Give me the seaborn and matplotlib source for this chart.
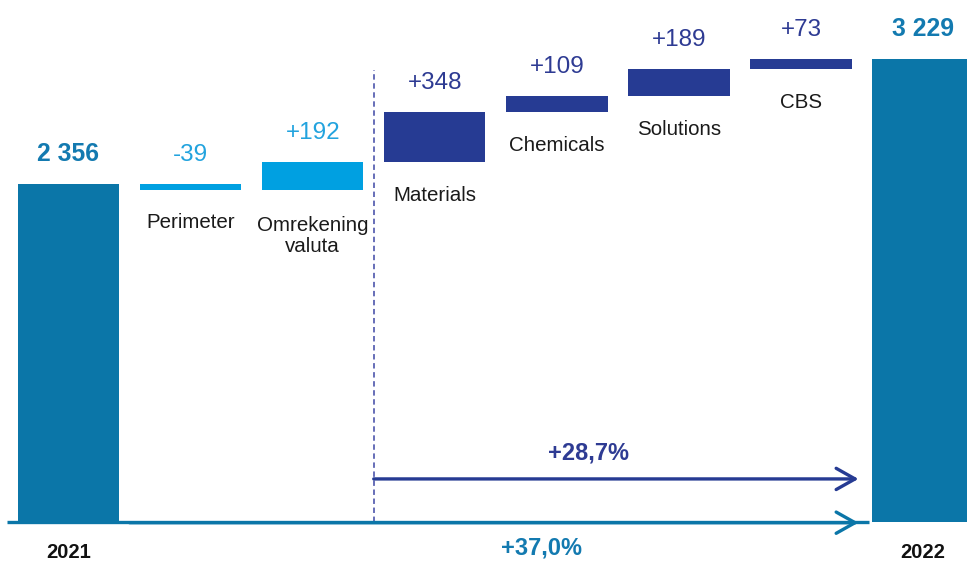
"""Waterfall: revenue bridge 2021 -> 2022"""

import matplotlib
matplotlib.use("Agg")
import matplotlib.pyplot as plt
import seaborn as sns
import pandas as pd

# data
categories = ["2021", "Perimeter", "Omrekening\nvaluta", "Materials",
              "Chemicals", "Solutions", "CBS", "2022"]
start_value = 2356
deltas = [-39, 192, 348, 109, 189, 73]
end_value = 3229
value_labels = ["2 356", "-39", "+192", "+348", "+109", "+189", "+73", "3 229"]
bar_colors = ["#0b76a8", "#00a0e1", "#00a0e1", "#263b93",
              "#263b93", "#263b93", "#263b93", "#0b76a8"]
text_colors = ["#137ab0", "#22a3de", "#22a3de", "#2e3b93",
               "#2e3b93", "#2e3b93", "#2e3b93", "#137ab0"]
pct_labels = ["+28,7%", "+37,0%"]


def waterfall_frame():
    """heights and bottoms of the floating bars"""
    heights = [start_value]
    bottoms = [0]
    level = start_value
    for d in deltas:
        new = level + d
        bottoms.append(min(level, new))
        heights.append(abs(d))
        level = new
    heights.append(end_value)
    bottoms.append(0)
    df = pd.DataFrame({"cat": categories, "height": heights, "bottom": bottoms})
    df["top"] = df["height"] + df["bottom"]
    return df


df = waterfall_frame()

sns.set_style("white")
plt.rcParams["font.family"] = ["Liberation Sans", "DejaVu Sans"]

fig = plt.figure(figsize=(9.67, 5.62), dpi=100)
ax = fig.add_axes([0, 0, 1, 1])

sns.barplot(data=df, x="cat", y="height", order=categories, bottom=df["bottom"].values,
            color=bar_colors[0], saturation=1, width=0.83, errorbar=None,
            linewidth=0, ax=ax)
for patch, col in zip(ax.patches, bar_colors):
    patch.set_facecolor(col)

ax.set_xlim(-0.561, 7.359)
ax.set_ylim(-279, 3638)
ax.axis("off")

# value labels above bars, category labels below the floating bars
label_size = 14.8
line_px = label_size * 1.15 * 100 / 72
for i, row in df.iterrows():
    bold = i in (0, len(df) - 1)
    ax.annotate(value_labels[i], xy=(i, row["top"]), xytext=(0, 23),
                textcoords="offset pixels", ha="center", va="baseline",
                fontsize=17.8 if bold else 17.5, color=text_colors[i],
                fontweight="bold" if bold else "normal")
    if not bold:
        extra = row["cat"].count("\n") * line_px
        ax.annotate(row["cat"], xy=(i, row["bottom"]), xytext=(0, -38.7 - extra),
                    textcoords="offset pixels", ha="center", va="baseline",
                    fontsize=label_size, color="#1a1a1a", linespacing=1.15)

# years under the total bars
for i in (0, len(df) - 1):
    ax.text(i, -253, categories[i], ha="center", va="baseline", fontsize=14.5,
            fontweight="bold", color="#111111",
            family=["Liberation Sans Narrow", "Liberation Sans"])

# dashed separator
ax.plot([2.5, 2.5], [0, 3150], color="#5a62b2", lw=1.3, linestyle=(0, (3, 2)))

# baseline and growth arrows
ax.plot([-0.5, 6.56], [0, 0], color="#0b76a8", lw=2.4, solid_capstyle="butt")
arrow = "->, head_length=0.8, head_width=0.45"
ax.annotate("", xy=(6.47, 300), xytext=(2.5, 300),
            arrowprops=dict(arrowstyle=arrow, lw=2.4, color="#263b93",
                            mutation_scale=17, shrinkA=0, shrinkB=0))
ax.annotate("", xy=(6.47, -5), xytext=(0.5, -5),
            arrowprops=dict(arrowstyle=arrow, lw=2.4, color="#0b76a8",
                            mutation_scale=17, shrinkA=0, shrinkB=0))
ax.text(4.257, 432, pct_labels[0], ha="center", va="baseline", fontsize=17,
        fontweight="bold", color="#2e3b93")
ax.text(3.87, -230, pct_labels[1], ha="center", va="baseline", fontsize=17,
        fontweight="bold", color="#137ab0")

fig.savefig("out.png", dpi=100)
